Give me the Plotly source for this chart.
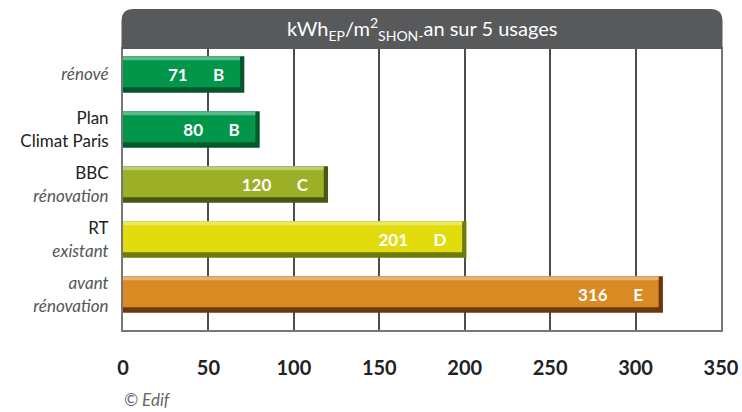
import plotly.graph_objects as go

categories = ["rénové", "Plan Climat Paris", "BBC rénovation", "RT existant", "avant rénovation"]
tick_labels = [
    "<span style='color:#555'><i>rénové</i></span>",
    "Plan<br>Climat Paris",
    "BBC<br><span style='color:#555'><i>rénovation</i></span>",
    "RT<br><span style='color:#555'><i>existant</i></span>",
    "<span style='color:#555'><i>avant<br>rénovation</i></span>",
]
values = [71, 80, 120, 201, 316]
classes = ["B", "B", "C", "D", "E"]
x_ticks = [0, 50, 100, 150, 200, 250, 300, 350]

main_colors = ["#02964b", "#02964b", "#9cb027", "#e2dc0e", "#da8a23"]
dark_colors = ["#00582a", "#00582a", "#465811", "#6e7a0a", "#6b360b"]
light_colors = ["rgba(255,255,255,0.35)"] * 5

ypos = list(range(len(categories)))
W = 0.66
FONT = "Lato, 'Open Sans', sans-serif"
sp = "\u2002"
texts = [f"{v}{sp*3}{c}{sp*2}" for v, c in zip(values, classes)]

fig = go.Figure()
# dark base (shadow)
fig.add_trace(go.Bar(x=values, y=ypos, orientation="h", width=W, offset=-W / 2,
                     marker=dict(color=dark_colors, line=dict(width=0)), hoverinfo="skip"))
# main body
fig.add_trace(go.Bar(x=[v - 2.5 for v in values], y=ypos, orientation="h", width=W - 0.1, offset=-W / 2,
                     marker=dict(color=main_colors, line=dict(width=0)), hoverinfo="skip"))
# top highlight
fig.add_trace(go.Bar(x=[v - 2.5 for v in values], y=ypos, orientation="h", width=0.07, offset=-W / 2,
                     marker=dict(color=light_colors, line=dict(width=0)), hoverinfo="skip"))
# text carrier
fig.add_trace(go.Bar(x=values, y=ypos, orientation="h", width=W, offset=-W / 2,
                     marker=dict(color="rgba(0,0,0,0)", line=dict(width=0)),
                     text=texts, textposition="inside", insidetextanchor="end",
                     textfont=dict(family=FONT, size=17, color="white", weight="bold"),
                     constraintext="none", cliponaxis=False, hoverinfo="skip"))

fig.update_layout(
    width=742, height=412,
    margin=dict(l=123, r=21, t=49, b=82),
    paper_bgcolor="white", plot_bgcolor="white",
    barmode="overlay", showlegend=False,
    xaxis=dict(range=[0, 350], tickvals=x_ticks, showgrid=True, gridcolor="#4d4d4d", gridwidth=2,
               zeroline=False, showline=True, linecolor="#777", linewidth=2, mirror=True,
               ticks="outside", ticklen=19, tickcolor="rgba(0,0,0,0)", automargin=False,
               tickfont=dict(family=FONT, size=20, color="#222", weight="bold"), fixedrange=True),
    yaxis=dict(range=[4.645, -0.464], tickvals=ypos, ticktext=tick_labels, showgrid=False,
               zeroline=False, showline=True, linecolor="#777", linewidth=2, mirror=True,
               ticks="outside", ticklen=9, tickcolor="rgba(0,0,0,0)", automargin=False,
               tickfont=dict(family=FONT, size=17, color="#222"), fixedrange=True),
)

# header band with rounded top corners
x0, x1 = -0.0025, 1.0025
y0, y1 = 1.0, 1.1423
rx, ry = 0.02, 0.043
path = (f"M {x0},{y0} L {x0},{y1-ry} Q {x0},{y1} {x0+rx},{y1} "
        f"L {x1-rx},{y1} Q {x1},{y1} {x1},{y1-ry} L {x1},{y0} Z")
fig.add_shape(type="path", path=path, xref="paper", yref="paper",
              fillcolor="#58595b", line=dict(width=0), layer="above")
fig.add_annotation(x=0.5, y=1.071, xref="paper", yref="paper", showarrow=False,
                   text="kWh<sub>EP</sub>/m<sup>2</sup><sub>SHON-</sub>an sur 5 usages",
                   font=dict(family=FONT, size=20, color="white"), xanchor="center", yanchor="middle")
fig.add_annotation(x=-0.002, y=-0.249, xref="paper", yref="paper", showarrow=False,
                   text="<i>© Edif</i>", font=dict(family=FONT, size=17, color="#666"),
                   xanchor="left", yanchor="middle")

fig.write_html("out.html", config={"displayModeBar": False},
               post_script="document.body.style.margin='0';document.body.style.overflow='hidden';")
